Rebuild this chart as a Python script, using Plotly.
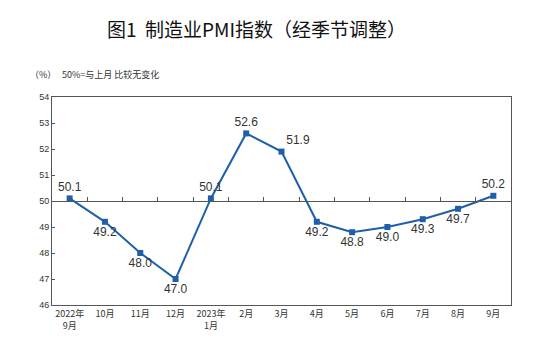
import plotly.graph_objects as go

months = ["2022年<br>9月", "10月", "11月", "12月", "2023年<br>1月", "2月", "3月",
          "4月", "5月", "6月", "7月", "8月", "9月"]
pmi = [50.1, 49.2, 48.0, 47.0, 50.1, 52.6, 51.9, 49.2, 48.8, 49.0, 49.3, 49.7, 50.2]
label_pos = ["top center", "bottom center", "bottom center", "bottom center", "top center",
             "top center", "top right", "bottom center", "bottom center", "bottom center",
             "bottom center", "bottom center", "top center"]
y_ticks = [46, 47, 48, 49, 50, 51, 52, 53, 54]

idx = list(range(len(months)))
blue = "#1F5FAA"
axis_col = "#555555"
txt = "#333333"

fig = go.Figure()
fig.add_trace(go.Scatter(
    x=idx, y=pmi, mode="lines+markers+text",
    line=dict(color=blue, width=2),
    marker=dict(symbol="square", size=6, color=blue),
    text=[f"{v:.1f}" for v in pmi], textposition=label_pos,
    textfont=dict(family="Liberation Sans, Arial", size=12, color=txt),
    hoverinfo="skip", showlegend=False,
))
# invisible trace for the middle axis at 50
fig.add_trace(go.Scatter(x=idx, y=pmi, xaxis="x2", mode="none", showlegend=False, hoverinfo="skip"))

fig.update_layout(
    width=550, height=361,
    margin=dict(l=52, r=39, t=97, b=56),
    paper_bgcolor="white", plot_bgcolor="white",
    xaxis=dict(range=[-0.5, len(months) - 0.5], tickvals=idx, ticktext=months,
               showgrid=False, zeroline=False, ticks="",
               showline=True, mirror=True, linecolor=axis_col, linewidth=1,
               tickfont=dict(family="Noto Sans CJK SC", size=9, color=txt)),
    xaxis2=dict(overlaying="x", anchor="free", position=0.5, side="bottom",
                range=[-0.5, len(months) - 0.5],
                tickvals=[i + 0.5 for i in idx[:-1]], showticklabels=False,
                ticks="inside", ticklen=4, tickcolor=axis_col,
                showgrid=False, zeroline=False,
                showline=True, linecolor=axis_col, linewidth=1),
    yaxis=dict(range=[46, 54], tickvals=y_ticks, showgrid=False, zeroline=False,
               ticks="inside", ticklen=3, tickcolor=axis_col,
               showline=True, mirror=True, linecolor=axis_col, linewidth=1,
               tickfont=dict(family="Liberation Sans, Arial", size=9, color=txt)),
    annotations=[
        dict(text="图1  制造业PMI指数（经季节调整）", xref="paper", yref="paper",
             x=(256 - 52) / 459, y=1 + (97 - 28) / 208, xanchor="center", yanchor="middle",
             showarrow=False, font=dict(family="Noto Sans CJK SC", size=19, color="#111111")),
        dict(text="（%）", xref="paper", yref="paper",
             x=(28 - 52) / 459, y=1 + (97 - 75) / 208, xanchor="left", yanchor="middle",
             showarrow=False, font=dict(family="Noto Sans CJK SC", size=9, color=txt)),
        dict(text="50%=与上月 比较无变化", xref="paper", yref="paper",
             x=(60 - 52) / 459, y=1 + (97 - 75) / 208, xanchor="left", yanchor="middle",
             showarrow=False, font=dict(family="Noto Sans CJK SC", size=9, color=txt)),
    ],
)

fig.write_html("out.html", config={"displayModeBar": False},
               post_script="document.body.style.margin='0';")
